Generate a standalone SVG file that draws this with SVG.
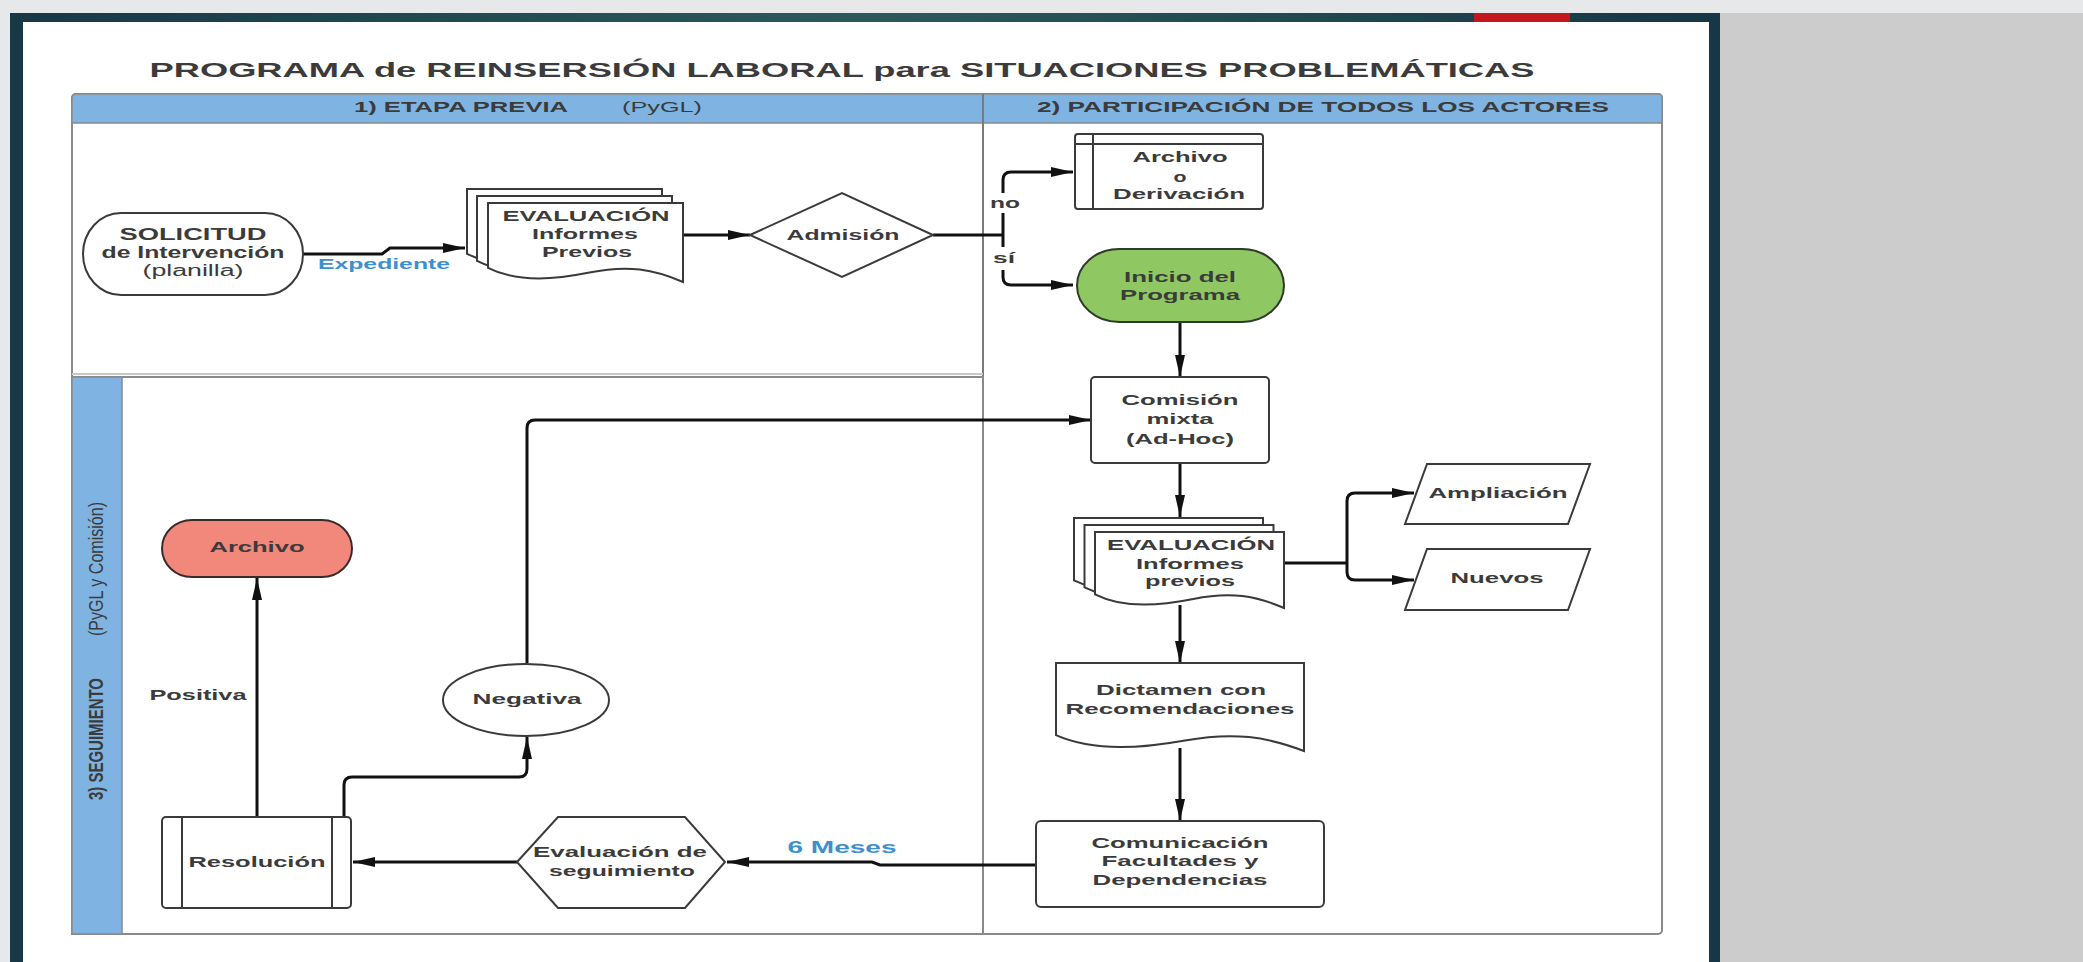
<svg xmlns="http://www.w3.org/2000/svg" width="2083" height="962" viewBox="0 0 2083 962">
<defs>
<linearGradient id="frame" x1="0" y1="0" x2="1" y2="0">
<stop offset="0" stop-color="#173946"/>
<stop offset="0.5" stop-color="#2b5a5d"/>
<stop offset="1" stop-color="#163745"/>
</linearGradient>
<marker id="arr" markerUnits="userSpaceOnUse" markerWidth="24" markerHeight="12" refX="22" refY="6" orient="auto">
<path d="M0,1 L22,6 L0,11 Z" fill="#111"/>
</marker>
<style>
.t{font-family:"Liberation Sans",Arial,sans-serif;font-weight:bold;fill:#3b3b3b;text-anchor:middle;font-size:15px}
.n{font-weight:normal}
.b{fill:#3d8fd0}
.node{fill:#fff;stroke:#3a3a3a;stroke-width:2}
.conn{fill:none;stroke:#111;stroke-width:3}
.lane{fill:none;stroke:#8a8a8a;stroke-width:2}
</style>
</defs>

<!-- background and frame -->
<rect x="0" y="0" width="2083" height="962" fill="#e6e8ea"/>
<rect x="1720" y="13" width="363" height="949" fill="#cccccc"/>
<rect x="10" y="13" width="1710" height="949" fill="url(#frame)"/>
<rect x="23" y="22" width="1686" height="940" fill="#ffffff"/>
<rect x="1474" y="13" width="96" height="9" fill="#c4171d"/>

<text class="t" x="842" y="77" style="font-size:21px" textLength="1385" lengthAdjust="spacingAndGlyphs">PROGRAMA de REINSERSIÓN LABORAL para SITUACIONES PROBLEMÁTICAS</text>

<!-- swimlanes -->
<g id="lanes">
<rect class="lane" x="72" y="94" width="1590" height="840" rx="4"/>
<path d="M72,123 V98 Q72,94 76,94 H1658 Q1662,94 1662,98 V123 Z" fill="#7fb4e2" stroke="#8a8a8a" stroke-width="1.5"/>
<line x1="983" y1="94" x2="983" y2="934" stroke="#7a7a7a" stroke-width="2"/>
<line x1="72" y1="374" x2="983" y2="374" stroke="#c8c8c8" stroke-width="2"/>
<rect class="lane" x="72" y="377" width="911" height="557"/>
<rect x="72" y="377" width="50" height="557" fill="#7fb4e2" stroke="#8a8a8a" stroke-width="1.5"/>
<text class="t" x="461" y="112" textLength="214" lengthAdjust="spacingAndGlyphs">1) ETAPA PREVIA</text>
<text class="t n" x="662" y="112" textLength="80" lengthAdjust="spacingAndGlyphs">(PyGL)</text>
<text class="t" x="1323" y="112" textLength="572" lengthAdjust="spacingAndGlyphs">2) PARTICIPACIÓN  DE TODOS LOS ACTORES</text>
<text class="t" style="text-anchor:start;font-size:14px" transform="translate(103,800) rotate(-90) scale(1,1.5)" textLength="122" lengthAdjust="spacingAndGlyphs">3) SEGUIMIENTO</text>
<text class="t n" style="text-anchor:start;font-size:14px" transform="translate(103,636) rotate(-90) scale(1,1.5)" textLength="134" lengthAdjust="spacingAndGlyphs">(PyGL y Comisión)</text>
</g>

<!-- connectors -->
<g id="connectors">
<path class="conn" d="M303,254 H382 L390,248 H465" marker-end="url(#arr)"/>
<path class="conn" d="M683,235 H750" marker-end="url(#arr)"/>
<path class="conn" d="M933,235 H1003"/>
<path class="conn" d="M1003,235 V180 Q1003,172 1011,172 H1073" marker-end="url(#arr)"/>
<path class="conn" d="M1003,235 V277 Q1003,285 1011,285 H1073" marker-end="url(#arr)"/>
<path class="conn" d="M1180,322 V377" marker-end="url(#arr)"/>
<path class="conn" d="M1180,463 V517" marker-end="url(#arr)"/>
<path class="conn" d="M1284,563 H1347"/>
<path class="conn" d="M1347,563 V501 Q1347,493 1355,493 H1414" marker-end="url(#arr)"/>
<path class="conn" d="M1347,563 V572 Q1347,580 1355,580 H1414" marker-end="url(#arr)"/>
<path class="conn" d="M1180,605 V663" marker-end="url(#arr)"/>
<path class="conn" d="M1180,748 V821" marker-end="url(#arr)"/>
<path class="conn" d="M1036,865 H880 L872,862 H727" marker-end="url(#arr)"/>
<path class="conn" d="M517,862 H353" marker-end="url(#arr)"/>
<path class="conn" d="M257,817 V578" marker-end="url(#arr)"/>
<path class="conn" d="M344,817 V785 Q344,777 352,777 H519 Q527,777 527,769 V737" marker-end="url(#arr)"/>
<path class="conn" d="M527,663 V428 Q527,420 535,420 H1091" marker-end="url(#arr)"/>
<rect x="988" y="193" width="34" height="20" fill="#fff"/>
<rect x="990" y="247" width="28" height="23" fill="#fff"/>
<text class="t" x="1005" y="208" textLength="30" lengthAdjust="spacingAndGlyphs">no</text>
<text class="t" x="1004" y="263" textLength="22" lengthAdjust="spacingAndGlyphs">sí</text>
<text class="t b" x="384" y="269" textLength="132" lengthAdjust="spacingAndGlyphs">Expediente</text>
<text class="t b" x="842" y="853" style="font-size:17px" textLength="109" lengthAdjust="spacingAndGlyphs">6 Meses</text>
<text class="t" x="198" y="700" textLength="97" lengthAdjust="spacingAndGlyphs">Positiva</text>
</g>

<g id="solicitud">
<rect class="node" x="83" y="213" width="220" height="82" rx="38" ry="41"/>
<text class="t" x="193" y="240" style="font-size:16px" textLength="147" lengthAdjust="spacingAndGlyphs">SOLICITUD</text>
<text class="t" x="193" y="258" style="font-size:16px" textLength="183" lengthAdjust="spacingAndGlyphs">de Intervención</text>
<text class="t n" x="193" y="276" style="font-size:16px" textLength="101" lengthAdjust="spacingAndGlyphs">(planilla)</text>
</g>

<g id="evaluacion1">
<path class="node" transform="translate(-21,-14)" d="M488,203 H683 V282 C653.8,269.4 628.4,264.6 589.4,272.5 C558.2,278.8 519.2,283.6 488,267.8 Z"/>
<path class="node" transform="translate(-11,-7)" d="M488,203 H683 V282 C653.8,269.4 628.4,264.6 589.4,272.5 C558.2,278.8 519.2,283.6 488,267.8 Z"/>
<path class="node" d="M488,203 H683 V282 C653.8,269.4 628.4,264.6 589.4,272.5 C558.2,278.8 519.2,283.6 488,267.8 Z"/>
<text class="t" x="586" y="221" textLength="167" lengthAdjust="spacingAndGlyphs">EVALUACIÓN</text>
<text class="t" x="585" y="239" textLength="106" lengthAdjust="spacingAndGlyphs">Informes</text>
<text class="t" x="587" y="257" textLength="90" lengthAdjust="spacingAndGlyphs">Previos</text>
</g>

<g id="admision">
<path class="node" d="M750,235 L842,193 L933,235 L842,277 Z"/>
<text class="t" x="843" y="240" textLength="113" lengthAdjust="spacingAndGlyphs">Admisión</text>
</g>

<g id="archivo-derivacion">
<rect class="node" x="1075" y="134" width="188" height="75" rx="3"/>
<line x1="1093" y1="134" x2="1093" y2="209" stroke="#3a3a3a" stroke-width="2"/>
<line x1="1075" y1="144" x2="1263" y2="144" stroke="#3a3a3a" stroke-width="2"/>
<text class="t" x="1180" y="162" textLength="95" lengthAdjust="spacingAndGlyphs">Archivo</text>
<text class="t" x="1180" y="182" textLength="13" lengthAdjust="spacingAndGlyphs">o</text>
<text class="t" x="1179" y="199" textLength="132" lengthAdjust="spacingAndGlyphs">Derivación</text>
</g>

<g id="inicio">
<rect x="1077" y="249" width="207" height="73" rx="42" ry="36.5" fill="#8fc862" stroke="#2f3a2a" stroke-width="2"/>
<text class="t" x="1180" y="282" textLength="112" lengthAdjust="spacingAndGlyphs">Inicio del</text>
<text class="t" x="1180" y="300" textLength="120" lengthAdjust="spacingAndGlyphs">Programa</text>
</g>

<g id="comision">
<rect class="node" x="1091" y="377" width="178" height="86" rx="4"/>
<text class="t" x="1180" y="405" textLength="117" lengthAdjust="spacingAndGlyphs">Comisión</text>
<text class="t" x="1180" y="424" textLength="67" lengthAdjust="spacingAndGlyphs">mixta</text>
<text class="t" x="1180" y="444" textLength="108" lengthAdjust="spacingAndGlyphs">(Ad-Hoc)</text>
</g>

<g id="evaluacion2">
<path class="node" transform="translate(-21,-14)" d="M1095,532 H1284 V608 C1255.7,595.8 1231.1,591.3 1193.3,598.9 C1163,605 1125.2,609.5 1095,594.3 Z"/>
<path class="node" transform="translate(-10.5,-7)" d="M1095,532 H1284 V608 C1255.7,595.8 1231.1,591.3 1193.3,598.9 C1163,605 1125.2,609.5 1095,594.3 Z"/>
<path class="node" d="M1095,532 H1284 V608 C1255.7,595.8 1231.1,591.3 1193.3,598.9 C1163,605 1125.2,609.5 1095,594.3 Z"/>
<text class="t" x="1191" y="550" textLength="168" lengthAdjust="spacingAndGlyphs">EVALUACIÓN</text>
<text class="t" x="1190" y="569" textLength="108" lengthAdjust="spacingAndGlyphs">Informes</text>
<text class="t" x="1190" y="586" textLength="90" lengthAdjust="spacingAndGlyphs">previos</text>
</g>

<g id="ampliacion">
<path class="node" d="M1427,464 H1590 L1568,524 H1405 Z"/>
<text class="t" x="1498" y="498" textLength="139" lengthAdjust="spacingAndGlyphs">Ampliación</text>
</g>

<g id="nuevos">
<path class="node" d="M1427,549 H1590 L1568,610 H1405 Z"/>
<text class="t" x="1497" y="583" textLength="93" lengthAdjust="spacingAndGlyphs">Nuevos</text>
</g>

<g id="dictamen">
<path class="node" d="M1056,663 H1304 V751 C1266.8,736.9 1234.6,731.6 1185,740.4 C1145.3,747.5 1095.7,752.8 1056,735.2 Z"/>
<text class="t" x="1181" y="695" textLength="170" lengthAdjust="spacingAndGlyphs">Dictamen con</text>
<text class="t" x="1180" y="714" textLength="229" lengthAdjust="spacingAndGlyphs">Recomendaciones</text>
</g>

<g id="comunicacion">
<rect class="node" x="1036" y="821" width="288" height="86" rx="5"/>
<text class="t" x="1180" y="848" textLength="177" lengthAdjust="spacingAndGlyphs">Comunicación</text>
<text class="t" x="1180" y="866" textLength="157" lengthAdjust="spacingAndGlyphs">Facultades y</text>
<text class="t" x="1180" y="885" textLength="175" lengthAdjust="spacingAndGlyphs">Dependencias</text>
</g>

<g id="evaluacion-seguimiento">
<path class="node" d="M517,862 L558,817 H685 L725,862 L685,908 H558 Z"/>
<text class="t" x="620" y="857" textLength="174" lengthAdjust="spacingAndGlyphs">Evaluación de</text>
<text class="t" x="622" y="876" textLength="146" lengthAdjust="spacingAndGlyphs">seguimiento</text>
</g>

<g id="resolucion">
<rect class="node" x="162" y="817" width="189" height="91" rx="4"/>
<line x1="182" y1="817" x2="182" y2="908" stroke="#3a3a3a" stroke-width="2"/>
<line x1="332" y1="817" x2="332" y2="908" stroke="#3a3a3a" stroke-width="2"/>
<text class="t" x="257" y="867" textLength="137" lengthAdjust="spacingAndGlyphs">Resolución</text>
</g>

<g id="negativa">
<ellipse class="node" cx="526" cy="700" rx="83" ry="36"/>
<text class="t" x="527" y="704" textLength="109" lengthAdjust="spacingAndGlyphs">Negativa</text>
</g>

<g id="archivo">
<rect x="162" y="520" width="190" height="57" rx="30" ry="28.5" fill="#f2877b" stroke="#3a2a28" stroke-width="2"/>
<text class="t" x="257" y="552" textLength="95" lengthAdjust="spacingAndGlyphs">Archivo</text>
</g>
</svg>
